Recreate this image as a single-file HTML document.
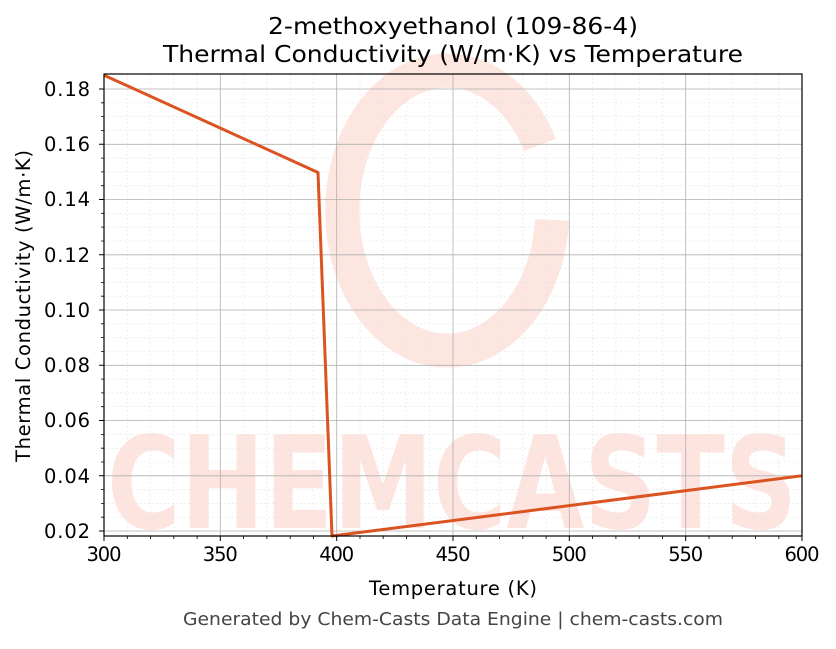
<!DOCTYPE html>
<html><head><style>body{margin:0;background:#fff}</style></head><body>
<svg width="836" height="644" xmlns="http://www.w3.org/2000/svg" font-family="DejaVu Sans, Liberation Sans, sans-serif">
<rect width="836" height="644" fill="#fff"/>
<!-- watermark -->
<g opacity="0.6">
<path d="M540,145 A105,140 0 1 0 552,220" fill="none" stroke="#fcd3cb" stroke-width="34"/>
<text x="452" y="528" text-anchor="middle" font-size="128" font-weight="bold" fill="#fcd3cb" textLength="690" lengthAdjust="spacingAndGlyphs">CHEMCASTS</text>
</g>
<!-- minor grid -->
<g stroke="#e4e4e4" stroke-width="0.6" stroke-dasharray="2,2">
<path d="M127.3,74V536M150.5,74V536M173.8,74V536M197.1,74V536M243.6,74V536M266.9,74V536M290.2,74V536M313.4,74V536M360,74V536M383.2,74V536M406.5,74V536M429.8,74V536M476.3,74V536M499.6,74V536M522.8,74V536M546.1,74V536M592.6,74V536M615.9,74V536M639.2,74V536M662.4,74V536M709,74V536M732.2,74V536M755.5,74V536M778.8,74V536"/>
<path d="M104,102.8H802M104,116.6H802M104,130.4H802M104,158.1H802M104,171.9H802M104,185.7H802M104,213.3H802M104,227.1H802M104,241H802M104,268.6H802M104,282.4H802M104,296.2H802M104,323.8H802M104,337.6H802M104,351.5H802M104,379.1H802M104,392.9H802M104,406.7H802M104,434.4H802M104,448.2H802M104,462H802M104,489.6H802M104,503.4H802M104,517.2H802"/>
</g>
<!-- major grid -->
<g stroke="#b0b0b0" stroke-width="0.8">
<path d="M220.3,74V536M336.7,74V536M453,74V536M569.3,74V536M685.7,74V536"/>
<path d="M104,89H802M104,144.3H802M104,199.5H802M104,254.8H802M104,310H802M104,365.3H802M104,420.5H802M104,475.8H802M104,531H802"/>
</g>
<!-- data -->
<polyline points="104,75.2 318,172.5 332,536 802,475.8" fill="none" stroke="#dc5322" stroke-width="3" stroke-linejoin="round"/>
<rect x="104" y="74" width="698" height="462" fill="none" stroke="#000" stroke-width="1.2"/>
<!-- ticks -->
<g stroke="#000" stroke-width="1">
<path d="M104,536v5M220.3,536v5M336.7,536v5M453,536v5M569.3,536v5M685.7,536v5M802,536v5"/>
<path d="M104,89h-5M104,144.3h-5M104,199.5h-5M104,254.8h-5M104,310h-5M104,365.3h-5M104,420.5h-5M104,475.8h-5M104,531h-5"/>
</g>
<g stroke="#000" stroke-width="0.8">
<path d="M127.3,536v3M150.5,536v3M173.8,536v3M197.1,536v3M243.6,536v3M266.9,536v3M290.2,536v3M313.4,536v3M360,536v3M383.2,536v3M406.5,536v3M429.8,536v3M476.3,536v3M499.6,536v3M522.8,536v3M546.1,536v3M592.6,536v3M615.9,536v3M639.2,536v3M662.4,536v3M709,536v3M732.2,536v3M755.5,536v3M778.8,536v3"/>
<path d="M104,102.8h-3M104,116.6h-3M104,130.4h-3M104,158.1h-3M104,171.9h-3M104,185.7h-3M104,213.3h-3M104,227.1h-3M104,241h-3M104,268.6h-3M104,282.4h-3M104,296.2h-3M104,323.8h-3M104,337.6h-3M104,351.5h-3M104,379.1h-3M104,392.9h-3M104,406.7h-3M104,434.4h-3M104,448.2h-3M104,462h-3M104,489.6h-3M104,503.4h-3M104,517.2h-3"/>
</g>
<g font-size="19.5" fill="#000" lengthAdjust="spacingAndGlyphs">
<g text-anchor="middle">
<text x="104" y="561" textLength="35">300</text><text x="220.3" y="561" textLength="35">350</text><text x="336.7" y="561" textLength="35">400</text><text x="453" y="561" textLength="35">450</text><text x="569.3" y="561" textLength="35">500</text><text x="685.7" y="561" textLength="35">550</text><text x="802" y="561" textLength="35">600</text>
</g>
<g text-anchor="end">
<text x="90" y="96" textLength="46">0.18</text><text x="90" y="151" textLength="46">0.16</text><text x="90" y="206" textLength="46">0.14</text><text x="90" y="262" textLength="46">0.12</text><text x="90" y="317" textLength="46">0.10</text><text x="90" y="372" textLength="46">0.08</text><text x="90" y="427" textLength="46">0.06</text><text x="90" y="483" textLength="46">0.04</text><text x="90" y="538" textLength="46">0.02</text>
</g>
<text x="453" y="595" text-anchor="middle" textLength="168">Temperature (K)</text>
<text transform="translate(30,306) rotate(-90)" text-anchor="middle" textLength="312">Thermal Conductivity (W/m·K)</text>
</g>
<text x="453" y="34" text-anchor="middle" font-size="23" textLength="370" lengthAdjust="spacingAndGlyphs">2-methoxyethanol (109-86-4)</text>
<text x="453" y="62" text-anchor="middle" font-size="23" textLength="580" lengthAdjust="spacingAndGlyphs">Thermal Conductivity (W/m·K) vs Temperature</text>
<text x="453" y="625" text-anchor="middle" font-size="18" fill="#444" textLength="540" lengthAdjust="spacingAndGlyphs">Generated by Chem-Casts Data Engine | chem-casts.com</text>
</svg>
</body></html>
